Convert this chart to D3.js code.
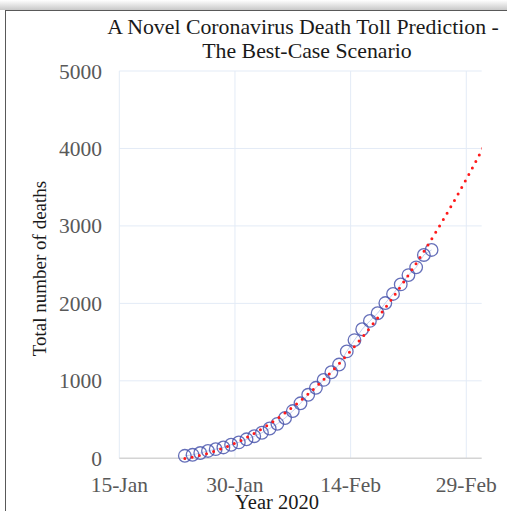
<!DOCTYPE html>
<html>
<head>
<meta charset="utf-8">
<script src="https://cdn.jsdelivr.net/npm/d3@7"></script>
<style>
  body { margin: 0; background: #fff; }
  svg { display: block; }
</style>
</head>
<body>
<script>
// reported dates (plotted at midday) and cumulative deaths
const dates = [
  "2020-01-23", "2020-01-24", "2020-01-25", "2020-01-26", "2020-01-27", "2020-01-28",
  "2020-01-29", "2020-01-30", "2020-01-31", "2020-02-01", "2020-02-02", "2020-02-03",
  "2020-02-04", "2020-02-05", "2020-02-06", "2020-02-07", "2020-02-08", "2020-02-09",
  "2020-02-10", "2020-02-11", "2020-02-12", "2020-02-13", "2020-02-14", "2020-02-15",
  "2020-02-16", "2020-02-17", "2020-02-18", "2020-02-19", "2020-02-20", "2020-02-21",
  "2020-02-22", "2020-02-23", "2020-02-24"
];
const deaths = [
  32, 45, 68, 95, 118, 140,
  175, 205, 245, 285, 330, 385,
  445, 520, 610, 710, 820, 910,
  1012, 1111, 1210, 1380, 1526, 1666,
  1774, 1873, 2004, 2122, 2245, 2365,
  2465, 2625, 2690
];
const tickDates = ["2020-01-15", "2020-01-30", "2020-02-14", "2020-02-29"];
const tickLabels = ["15-Jan", "30-Jan", "14-Feb", "29-Feb"];
const yTicks = [0, 1000, 2000, 3000, 4000, 5000];
const forecastDays = 7;

const W = 507, H = 511;
const parse = d3.utcParse("%Y-%m-%d");
const DAY = 864e5;
const FONT = "Liberation Serif, Times New Roman, serif";

const svg = d3.select("body").append("svg").attr("width", W).attr("height", H);

// frame shadow + border
const defs = svg.append("defs");
const g1 = defs.append("linearGradient").attr("id", "shTop").attr("x1", 0).attr("y1", 0).attr("x2", 0).attr("y2", 1);
g1.append("stop").attr("offset", 0).attr("stop-color", "#fff");
g1.append("stop").attr("offset", 1).attr("stop-color", "#c8c8c8");
svg.append("rect").attr("x", 0).attr("y", 0).attr("width", W).attr("height", 10).attr("fill", "url(#shTop)");
svg.append("rect").attr("x", 5.5).attr("y", 10.5).attr("width", 520).attr("height", 520)
  .attr("fill", "#fff").attr("stroke", "#595959").attr("stroke-width", 1);

const x = d3.scaleUtc()
  .domain([parse("2020-01-15"), parse("2020-03-02")])
  .range([119.3, 481.7]);
const y = d3.scaleLinear().domain([0, 5000]).range([458.3, 71]);

// gridlines
svg.append("g").selectAll("line").data(yTicks.filter(d => d > 0)).join("line")
  .attr("x1", x.range()[0]).attr("x2", x.range()[1])
  .attr("y1", d => y(d)).attr("y2", d => y(d))
  .attr("stroke", "#e3ebf6").attr("stroke-width", 1);
svg.append("g").selectAll("line").data(tickDates).join("line")
  .attr("x1", d => x(parse(d))).attr("x2", d => x(parse(d)))
  .attr("y1", y(5000)).attr("y2", y(0))
  .attr("stroke", "#e3ebf6").attr("stroke-width", 1);
svg.append("line")
  .attr("x1", x.range()[0]).attr("x2", x.range()[1])
  .attr("y1", y(0)).attr("y2", y(0))
  .attr("stroke", "#d4d4d4").attr("stroke-width", 1.5);

// tick labels
svg.append("g").selectAll("text").data(yTicks).join("text")
  .attr("x", 102).attr("y", d => y(d) + 7.5)
  .attr("text-anchor", "end")
  .attr("font-family", FONT).attr("font-size", 21.5).attr("fill", "#595959")
  .text(d => d);
svg.append("g").selectAll("text").data(tickDates).join("text")
  .attr("x", d => x(parse(d))).attr("y", 491.5)
  .attr("text-anchor", "middle")
  .attr("font-family", FONT).attr("font-size", 21.5).attr("fill", "#595959")
  .text((d, i) => tickLabels[i]);

// titles
const title = svg.append("text").attr("text-anchor", "middle")
  .attr("font-family", FONT).attr("font-size", 21.8).attr("fill", "#1a1a1a");
title.append("tspan").attr("x", 303).attr("y", 33.5).text("A Novel Coronavirus Death Toll Prediction -");
title.append("tspan").attr("x", 307).attr("y", 57.5).text("The Best-Case Scenario");

svg.append("text").attr("x", 277).attr("y", 509).attr("text-anchor", "middle")
  .attr("font-family", FONT).attr("font-size", 20.5).attr("fill", "#1a1a1a")
  .text("Year 2020");
svg.append("text")
  .attr("transform", `translate(46,${y(2450)}) rotate(-90)`)
  .attr("text-anchor", "middle")
  .attr("font-family", FONT).attr("font-size", 19).attr("fill", "#1a1a1a")
  .text("Total number of deaths");

// data points (midday of each date)
const pts = dates.map((d, i) => ({ t: new Date(+parse(d) + DAY / 2), v: deaths[i] }));

// quadratic least-squares trend, extended forward
const t0 = +pts[0].t;
const X = pts.map(p => (+p.t - t0) / DAY);
const S = k => d3.sum(X, xx => Math.pow(xx, k));
const Sy = k => d3.sum(X, (xx, i) => Math.pow(xx, k) * pts[i].v);
const A = [[S(4), S(3), S(2)], [S(3), S(2), S(1)], [S(2), S(1), X.length]];
const B = [Sy(2), Sy(1), Sy(0)];
function solve(A, B) {
  const n = B.length, M = A.map((r, i) => r.concat(B[i]));
  for (let c = 0; c < n; c++) {
    let p = c;
    for (let r = c + 1; r < n; r++) if (Math.abs(M[r][c]) > Math.abs(M[p][c])) p = r;
    [M[c], M[p]] = [M[p], M[c]];
    for (let r = 0; r < n; r++) if (r !== c) {
      const f = M[r][c] / M[c][c];
      for (let k = c; k <= n; k++) M[r][k] -= f * M[c][k];
    }
  }
  return M.map((r, i) => r[n] / r[i]);
}
const [qa, qb, qc] = solve(A, B);
const tEnd = X[X.length - 1] + forecastDays;
const trend = d3.range(0, tEnd + 0.01, 0.25).map(tt => ({ t: new Date(t0 + tt * DAY), v: qa * tt * tt + qb * tt + qc }));

svg.append("defs").append("clipPath").attr("id", "plotClip")
  .append("rect").attr("x", x.range()[0]).attr("y", 0).attr("width", x.range()[1] - x.range()[0]).attr("height", H);

const line = d3.line().x(d => x(d.t)).y(d => y(d.v));

svg.append("path").datum(pts).attr("d", line)
  .attr("fill", "none").attr("stroke", "#a9bde8").attr("stroke-width", 1).attr("opacity", 0.7);

svg.append("g").selectAll("circle").data(pts).join("circle")
  .attr("cx", d => x(d.t)).attr("cy", d => y(d.v)).attr("r", 6.3)
  .attr("fill", "none").attr("stroke", "#4a56ad").attr("stroke-width", 1.3).attr("stroke-opacity", 0.85);

svg.append("path").datum(trend).attr("d", line)
  .attr("clip-path", "url(#plotClip)")
  .attr("fill", "none").attr("stroke", "#ff1a1a").attr("stroke-width", 3)
  .attr("stroke-linecap", "round").attr("stroke-dasharray", "0,7.4");
</script>
</body>
</html>
